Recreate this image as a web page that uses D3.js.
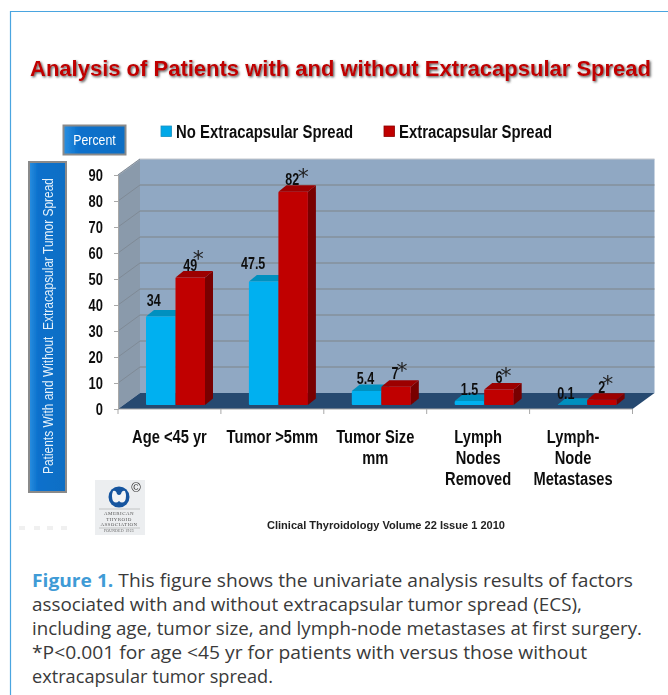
<!DOCTYPE html>
<html><head><meta charset="utf-8">
<script src="https://cdn.jsdelivr.net/npm/d3@7/dist/d3.min.js"></script>
<style>
html,body{margin:0;padding:0;background:#fff;overflow:hidden}
svg{display:block}
text{font-family:"Liberation Sans",Arial,sans-serif}
.b{font-weight:700;fill:#111}
</style></head><body><svg id="c" width="668" height="695"></svg>
<script>
const titleText = "Analysis of Patients with and without Extracapsular Spread";
const categories = ["Age <45 yr","Tumor >5mm","Tumor Size|mm","Lymph|Nodes|Removed","Lymph-|Node|Metastases"];
const seriesNames = ["No Extracapsular Spread","Extracapsular Spread"];
const noSpread = [34,47.5,5.4,1.5,0.1];
const withSpread = [49,82,7,6,2];
const noSpreadLabels = ["34","47.5","5.4","1.5","0.1"];
const withSpreadLabels = ["49","82","7","6","2"];
const yTicks = [0,10,20,30,40,50,60,70,80,90];
const captionLines = [
 "This figure shows the univariate analysis results of factors",
 "associated with and without extracapsular tumor spread (ECS),",
 "including age, tumor size, and lymph-node metastases at first surgery.",
 "*P<0.001 for age <45 yr for patients with versus those without",
 "extracapsular tumor spread."];
// hand placement of the value labels, relative to each bar's top centre
const noLabelNudge = [[-7,-17],[-10.5,-19],[-1,-13],[0,-12],[-6.5,-12]];
const withLabelNudge = [[0,-13],[-1,-13],[-1,-14],[0,-12],[0,-13]];
const starNudge = [[8,-9],[11,-5],[7,-5],[7,-5],[6,-6]];

const svg = d3.select("#c");
const defs = svg.append("defs");
const soft = defs.append("filter").attr("id","soft").attr("x","-5%").attr("y","-5%").attr("width","110%").attr("height","110%");
soft.append("feGaussianBlur").attr("stdDeviation",0.4);
const shadow = defs.append("filter").attr("id","shadow").attr("x","-5%").attr("y","-30%").attr("width","110%").attr("height","170%");
shadow.append("feDropShadow").attr("dx",1.2).attr("dy",1.2).attr("stdDeviation",0.8).attr("flood-color","#555");
const g1 = defs.append("linearGradient").attr("id","btn").attr("x1",0).attr("x2",1).attr("y1",0).attr("y2",0);
g1.append("stop").attr("offset",0).attr("stop-color","#2a8fe0");
g1.append("stop").attr("offset",0.25).attr("stop-color","#0a70cc");
g1.append("stop").attr("offset",1).attr("stop-color","#0a6ec4");

// squeeze a text horizontally, standing in for a narrow typeface
function squeeze(sel,f){
  sel.each(function(){
    const n=this.getComputedTextLength();
    d3.select(this).attr("textLength",n*f).attr("lengthAdjust","spacingAndGlyphs");
  });
  return sel;
}

// frame
svg.append("path").attr("d",`M668,11.5H10.5V695`).attr("fill","none").attr("stroke","#4aa5e0").attr("stroke-width",1.2);

const chart = svg.append("g").attr("filter","url(#soft)");

// title
chart.append("text").text(titleText).attr("x",30).attr("y",76)
  .attr("textLength",621).attr("lengthAdjust","spacingAndGlyphs")
  .style("font-weight",700).style("font-size","22.5px")
  .attr("fill","#c00000").attr("filter","url(#shadow)");

// scales
const x0 = d3.scaleBand().domain(categories).range([118,632.5]);
const x1 = d3.scaleBand().domain([0,1]).range([28,87]);
const y = d3.scaleLinear().domain([0,90]).range([409,175]);
const depth = {dx:22,dy:-16};
const barShift = -4;
const bar = {dx:8,dy:-6.5};

const poly = pts => pts.map(p=>p.join(",")).join(" ");
const L=x0.range()[0], R=x0.range()[1], T=y(90), B=y(0);
const walls = chart.append("g");
walls.append("polygon").attr("points",poly([[L,T],[L+depth.dx,T+depth.dy],[L+depth.dx,B+depth.dy],[L,B]])).attr("fill","#8a9aab");
walls.append("polygon").attr("points",poly([[L+depth.dx,T+depth.dy],[R+depth.dx,T+depth.dy],[R+depth.dx,B+depth.dy],[L+depth.dx,B+depth.dy]])).attr("fill","#90a8c3");
walls.append("polygon").attr("points",poly([[L,B],[L+depth.dx,B+depth.dy],[R+depth.dx,B+depth.dy],[R,B]])).attr("fill","#26486f");
walls.append("path").attr("d",`M${L},${T}L${L+depth.dx},${T+depth.dy}H${R+depth.dx}`).attr("fill","none").attr("stroke","#c3c8ce").attr("stroke-width",1.2);
// gridlines
yTicks.filter(t=>t>0).forEach(t=>{
  walls.append("path").attr("d",`M${L},${y(t)}L${L+depth.dx},${y(t)+depth.dy}`).attr("stroke","#7f8a96").attr("fill","none");
  if(t<90) walls.append("path").attr("d",`M${L+depth.dx},${y(t)+depth.dy}H${R+depth.dx}`).attr("stroke","#7f8488").attr("stroke-width",1.2).attr("fill","none");
});

// y axis
const yAxis = chart.append("g").attr("transform",`translate(${L},0)`).call(d3.axisLeft(y).tickValues(yTicks).tickSize(4).tickPadding(11));
yAxis.selectAll("line,path").attr("stroke","#a8a8a8");
yAxis.selectAll("text").attr("class","b").style("font-size","17px").attr("fill","#111").attr("dy","0.32em");
squeeze(yAxis.selectAll("text"),0.76);

// bottom ticks
chart.append("g").selectAll("line").data(d3.range(categories.length+1)).join("line")
  .attr("x1",i=>L+i*x0.step()).attr("x2",i=>L+i*x0.step()).attr("y1",B).attr("y2",B+5).attr("stroke","#a8a8a8");
chart.append("path").attr("d",`M${L},${B}H${R}`).attr("stroke","#a8a8a8").attr("fill","none");

// bars
function drawBar(g,xl,w,v,front,top,side){
  const yb=y(0)+barShift, yt=y(v)+barShift, xr=xl+w;
  g.append("polygon").attr("points",poly([[xr,yb],[xr+bar.dx,yb+bar.dy],[xr+bar.dx,yt+bar.dy],[xr,yt]])).attr("fill",side);
  g.append("polygon").attr("points",poly([[xl,yt],[xl+bar.dx,yt+bar.dy],[xr+bar.dx,yt+bar.dy],[xr,yt]])).attr("fill",top);
  g.append("rect").attr("x",xl).attr("y",yt).attr("width",w).attr("height",Math.max(yb-yt,0)).attr("rx",1).attr("fill",front);
}
const bars = chart.append("g");
categories.forEach((c,i)=>{
  const g=bars.append("g");
  drawBar(g,x0(c)+x1(0),x1.bandwidth(),noSpread[i],"#00b0f0","#0090bf","#007fa8");
  drawBar(g,x0(c)+x1(1),x1.bandwidth(),withSpread[i],"#c00000","#9c0000","#780000");
});

// value labels
const labels = chart.append("g");
categories.forEach((c,i)=>{
  const ax=x0(c)+x1(0)+x1.bandwidth()/2, bx=x0(c)+x1(1)+x1.bandwidth()/2;
  const ay=y(noSpread[i])+barShift, by=y(withSpread[i])+barShift;
  squeeze(labels.append("text").text(noSpreadLabels[i]).attr("class","b").attr("text-anchor","middle")
    .attr("x",ax+noLabelNudge[i][0]).attr("y",ay+noLabelNudge[i][1]+6).style("font-size","16.5px"),0.76);
  squeeze(labels.append("text").text(withSpreadLabels[i]).attr("class","b").attr("text-anchor","middle")
    .attr("x",bx+withLabelNudge[i][0]).attr("y",by+withLabelNudge[i][1]+6).style("font-size","16.5px"),0.76);
  labels.append("text").text("*").attr("text-anchor","middle").attr("fill","#222")
    .attr("x",bx+withLabelNudge[i][0]+starNudge[i][0]).attr("y",by+withLabelNudge[i][1]+starNudge[i][1]+10.5)
    .style("font-family","'DejaVu Sans'").style("font-size","22px");
});

// category labels
const xAxis = chart.append("g").attr("transform",`translate(0,${B})`).call(d3.axisBottom(x0).tickSize(0).tickFormat(""));
xAxis.select("path").remove();
const labelShift=[0,0,0,0,-8];
categories.forEach((c,i)=>{
  c.split("|").forEach((s,k)=>{
    squeeze(chart.append("text").attr("class","b").attr("text-anchor","middle").style("font-size","17.5px").text(s)
      .attr("x",x0(c)+x0.bandwidth()/2+labelShift[i]).attr("y",443+k*21),0.84);
  });
});

// legend
const legend = chart.append("g");
[["#00a8e8",161,176,"#1590c0",177],["#c00000",384,399,"#8c0000",153]].forEach((d,i)=>{
  legend.append("rect").attr("x",d[1]).attr("y",126).attr("width",10.5).attr("height",10.5).attr("fill",d[0]).attr("stroke",d[3]).attr("stroke-width",.8);
  legend.append("text").text(seriesNames[i]).attr("class","b").attr("x",d[2]).attr("y",138).style("font-size","17.5px")
    .attr("textLength",d[4]).attr("lengthAdjust","spacingAndGlyphs");
});

// buttons
function button(x,y,w,h){
  chart.append("rect").attr("x",x).attr("y",y).attr("width",w).attr("height",h).attr("fill","url(#btn)").attr("stroke","#8a8a8a").attr("stroke-width",2);
}
button(63.5,125.5,62,29);
squeeze(chart.append("text").text("Percent").attr("x",94.5).attr("y",145).attr("text-anchor","middle").attr("fill","#fff").style("font-size","15px"),0.82);
button(29,162,37,330);
chart.append("text").text("Patients With and Without  Extracapsular Tumor Spread").attr("transform","translate(52.5,326) rotate(-90)")
  .attr("text-anchor","middle").attr("fill","#e6f1fa").style("white-space","pre").style("font-size","15.2px")
  .attr("textLength",296).attr("lengthAdjust","spacingAndGlyphs");

// logo
const logo = chart.append("g");
logo.append("rect").attr("x",95).attr("y",480).attr("width",50).attr("height",55).attr("fill","#eceef0");
logo.append("circle").attr("cx",119).attr("cy",497).attr("r",10.5).attr("fill","#15559f");
logo.append("path").attr("d","M113,491q3,-1 4,3q2,2 4,0q1,-4 4,-3q2,5 0,10q-3,3 -6,0q-3,3 -6,0q-2,-5 0,-10z").attr("fill","#f2f4f6");
logo.append("text").text("©").attr("x",136).attr("y",492).attr("text-anchor","middle").attr("fill","#333").style("font-size","13px");
["AMERICAN","THYROID","ASSOCIATION","FOUNDED 1923"].forEach((s,i)=>{
  logo.append("text").text(s).attr("x",119).attr("y",[515,520.5,526,532][i]).attr("text-anchor","middle").attr("fill","#555")
    .style("font-family","'Liberation Serif'").style("font-size",i==3?"3.6px":"5px").style("letter-spacing","0.4px");
});
logo.selectAll("line").data([509,528]).join("line").attr("x1",99).attr("x2",140).attr("y1",d=>d).attr("y2",d=>d).attr("stroke","#999").attr("stroke-width",.5);

// footer
chart.append("text").text("Clinical Thyroidology Volume 22 Issue 1 2010").attr("x",267).attr("y",529).attr("textLength",238).attr("lengthAdjust","spacingAndGlyphs")
  .style("font-weight",700).style("font-size","11px").attr("fill","#222");
// faint slide controls
chart.append("g").selectAll("rect").data([22,37,50,64]).join("rect").attr("x",d=>d-3).attr("y",526).attr("width",6).attr("height",4).attr("fill","#f0f0f0");

// caption
const cap = svg.append("g").style("font-size","18px").attr("fill","#3a3a3a");
const capFont="'Open Sans'";
const capWidths=[0,550,610,555,241];
captionLines.forEach((s,i)=>{
  const t=cap.append("text").attr("x",32).attr("y",587+i*24.1).style("font-family",capFont);
  if(i==0){
    t.append("tspan").text("Figure 1. ").attr("fill","#3f9bd6").style("font-weight",700);
    t.append("tspan").text(s);
    t.attr("textLength",601).attr("lengthAdjust","spacingAndGlyphs");
  } else {
    t.text(s).attr("textLength",capWidths[i]).attr("lengthAdjust","spacingAndGlyphs");
  }
});
</script></body></html>
